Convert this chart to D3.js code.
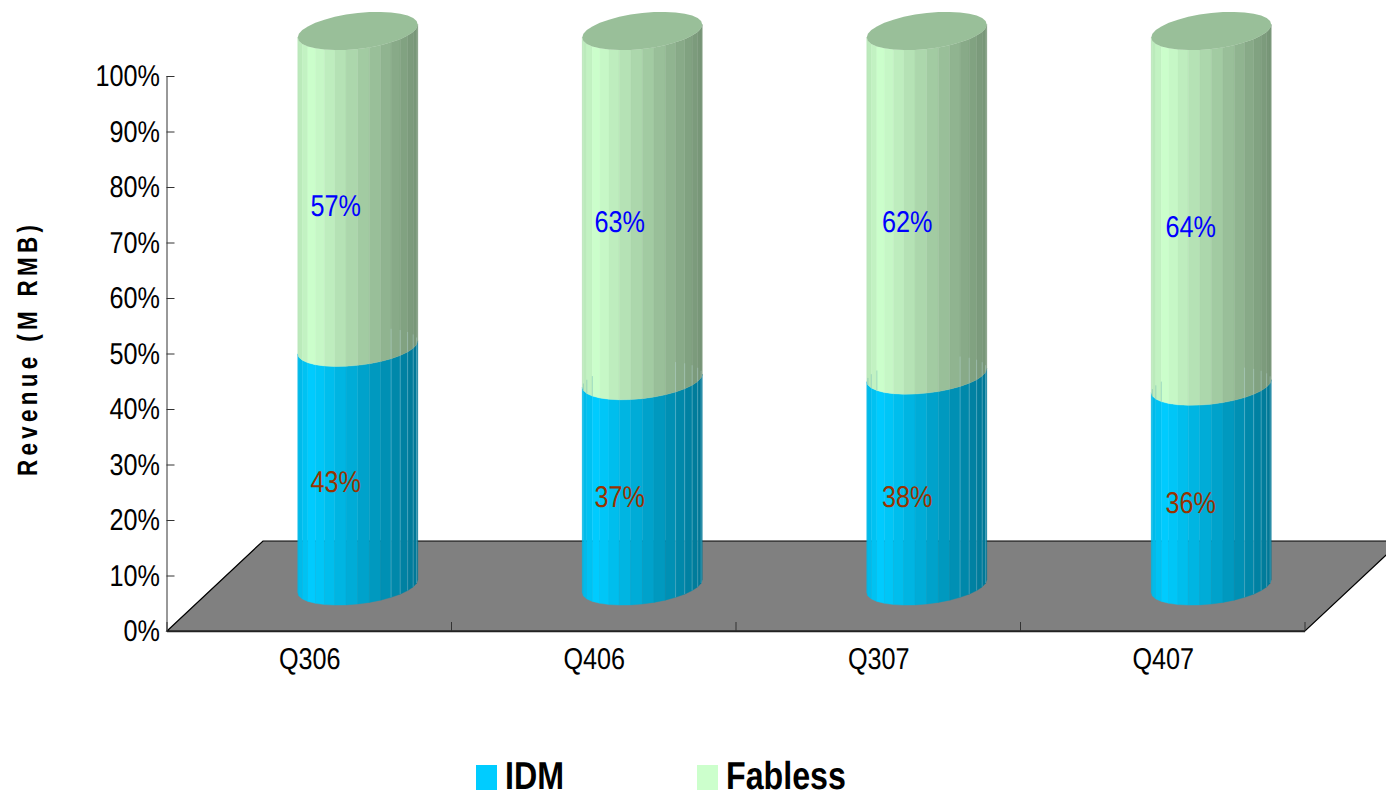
<!DOCTYPE html>
<html>
<head>
<meta charset="utf-8">
<title>Revenue share by customer type</title>
<script src="https://cdn.jsdelivr.net/npm/d3@7"></script>
<style>
  html, body { margin: 0; padding: 0; background: #fff; overflow: hidden; }
  svg { display: block; font-family: "Liberation Sans", Arial, sans-serif; text-rendering: geometricPrecision; }
</style>
</head>
<body>
<svg id="chart" width="1386" height="792"></svg>
<script>
// Quarterly revenue split, percent of total
const categories = ["Q306", "Q406", "Q307", "Q407"];
const seriesNames = ["IDM", "Fabless"];
const idmShare = [43, 37, 38, 36];
const fablessShare = [57, 63, 62, 64];
const yTickValues = [0, 10, 20, 30, 40, 50, 60, 70, 80, 90, 100];
const seriesColors = ["#00ccff", "#ccffcc"];
const labelColors = ["#993300", "#0000ff"];

// Plot frame and the 3D projection of the depth axis
const plot = { left: 167, right: 1305, top: 76, bottom: 631 };
const depth = { dx: 96, dy: 90 };
const cyl = { rx: 60, ry: 18, skew: 6.5, dx: 48.5, dy: 45 };
const frontFacets = 16;
const glyphSqueeze = 0.84;

// Small per-column shifts for the percentage labels
const labelShiftX = [0.5, 0, 3, 2];
const idmLabelShiftY = [0, -1, 1, 2];
const fablessLabelShiftY = [2, 1, 4, 3];

const svg = d3.select("#chart");
const x = d3.scaleBand().domain(categories).range([plot.left, plot.right]);
const y = d3.scaleLinear().domain([0, 100]).range([plot.bottom, plot.top]);

// Floor of the 3D box
svg.append("path")
  .attr("d", d3.line()([
    [plot.left, plot.bottom],
    [plot.left + depth.dx, plot.bottom - depth.dy],
    [plot.right + depth.dx, plot.bottom - depth.dy],
    [plot.right, plot.bottom]
  ]) + "Z")
  .attr("fill", "#808080")
  .attr("stroke", "#000")
  .attr("stroke-width", 1.2);

// Axes
const yAxis = svg.append("g")
  .attr("transform", `translate(${plot.left - 0.5},0)`)
  .call(d3.axisLeft(y).tickValues(yTickValues).tickFormat(d => d + "%").tickSize(-8).tickPadding(0));
yAxis.selectAll("text").remove();
yAxis.select(".domain").attr("stroke", "#333").attr("d", `M0.5,${plot.top}V${plot.bottom}`);
yAxis.selectAll(".tick line").attr("stroke", "#333");

const boundaries = categories.map(c => x(c) + x.bandwidth()).concat([plot.left]);
svg.append("g").selectAll("line").data(boundaries).join("line")
  .attr("x1", d => d).attr("x2", d => d)
  .attr("y1", plot.bottom - 9).attr("y2", plot.bottom)
  .attr("stroke", "#333");
svg.append("line")
  .attr("x1", plot.left).attr("x2", plot.right)
  .attr("y1", plot.bottom + 0.5).attr("y2", plot.bottom + 0.5)
  .attr("stroke", "#222").attr("stroke-width", 1.4);

// Horizontally condensed text, anchored at the given point
function squeezedText(parent, px, py, str, anchor, size, sx, fill, weight) {
  return parent.append("text")
    .attr("transform", `translate(${px},${py}) scale(${sx},1)`)
    .attr("text-anchor", anchor)
    .attr("font-size", size)
    .attr("font-weight", weight || "normal")
    .attr("fill", fill)
    .text(str);
}

yTickValues.forEach(v => {
  squeezedText(svg, 160, y(v) + 10, v + "%", "end", 30, glyphSqueeze, "#000");
});
categories.forEach(c => {
  squeezedText(svg, x(c) + x.bandwidth() / 2 + 0.5, 669, c, "middle", 30, glyphSqueeze, "#000");
});

// Point on the tilted rim ellipse for an angle: PI is the left edge, 0 the right edge
const rimPoint = (cx, cy, t) => [
  cx + cyl.rx * Math.cos(t),
  cy + cyl.ry * Math.sin(t) - cyl.skew * Math.cos(t)
];
const facetAngles = d3.range(frontFacets + 1).map(i => Math.PI * (1 - i / frontFacets));
const shade = d3.scaleLinear().domain([0, 0.12, 1]).range([0.9, 1, 0.58]);
const tint = (base, f) => {
  const c = d3.rgb(base);
  return d3.rgb(c.r * f, c.g * f, c.b * f).formatHex();
};

// One stacked cylinder segment, drawn as vertical facets between two rims
function drawSegment(g, cx, lowValue, highValue, color) {
  const yLow = y(lowValue) - cyl.dy;
  const yHigh = y(highValue) - cyl.dy;
  const facetColor = ([a, b]) => {
    const mid = rimPoint(cx, yLow, (a + b) / 2)[0];
    return tint(color, shade((mid - (cx - cyl.rx)) / (2 * cyl.rx)));
  };
  g.append("g").selectAll("path").data(d3.pairs(facetAngles)).join("path")
    .attr("d", ([a, b]) => d3.line()([
      rimPoint(cx, yLow, a), rimPoint(cx, yLow, b),
      rimPoint(cx, yHigh, b), rimPoint(cx, yHigh, a)
    ]) + "Z")
    .attr("fill", facetColor)
    .attr("stroke", facetColor)
    .attr("stroke-width", 0.4);
}

// Pale seams along the narrow right-hand facets of the lower segment
function drawSeams(g, cx, topValue, color) {
  const seamAngles = facetAngles.filter((t, i) => i >= frontFacets - 5 && i < frontFacets);
  g.append("g").selectAll("line").data(seamAngles).join("line")
    .attr("x1", t => rimPoint(cx, 0, t)[0]).attr("x2", t => rimPoint(cx, 0, t)[0])
    .attr("y1", t => rimPoint(cx, y(0) - cyl.dy, t)[1])
    .attr("y2", t => rimPoint(cx, y(topValue) - cyl.dy, -t)[1])
    .attr("stroke", color)
    .attr("stroke-opacity", 0.28)
    .attr("stroke-width", 1);
}

// Short streaks at the left edge, where the far rim of the lower segment shows through
function drawLeftStreaks(g, cx, topValue, color) {
  const rimY = y(topValue) - cyl.dy;
  const streakAngles = facetAngles.filter((t, i) => i >= 1 && i <= 3);
  g.append("g").selectAll("line").data(streakAngles).join("line")
    .attr("x1", t => rimPoint(cx, rimY, t)[0]).attr("x2", t => rimPoint(cx, rimY, t)[0])
    .attr("y1", t => rimPoint(cx, rimY, t)[1])
    .attr("y2", t => rimPoint(cx, rimY, -t)[1])
    .attr("stroke", color)
    .attr("stroke-opacity", 0.4)
    .attr("stroke-width", 1);
}

const capAngles = d3.range(2 * frontFacets).map(i => Math.PI * i / frontFacets);

categories.forEach((c, i) => {
  const g = svg.append("g");
  const cx = x(c) + x.bandwidth() / 2 + cyl.dx;
  const idmTop = idmShare[i];
  const total = idmShare[i] + fablessShare[i];
  drawSegment(g, cx, 0, idmTop, seriesColors[0]);
  drawSegment(g, cx, idmTop, total, seriesColors[1]);
  drawSeams(g, cx, idmTop, "#ccf0ff");
  if (idmTop < 40) drawLeftStreaks(g, cx, idmTop, "#5fb0b0");
  g.append("path")
    .attr("d", d3.line()(capAngles.map(t => rimPoint(cx, y(total) - cyl.dy, t))) + "Z")
    .attr("fill", tint(seriesColors[1], 0.75));

  // Percentage labels sit on the front of each segment
  const labelX = x(c) + x.bandwidth() / 2 + 26 + labelShiftX[i];
  squeezedText(svg, labelX, y(idmTop / 2) - 20 + idmLabelShiftY[i], idmShare[i] + "%", "middle", 30, glyphSqueeze, labelColors[0]);
  squeezedText(svg, labelX, y(idmTop + fablessShare[i] / 2) - 20 + fablessLabelShiftY[i], fablessShare[i] + "%", "middle", 30, glyphSqueeze, labelColors[1]);
});

// Axis title, tall bold letters condensed along the reading direction
const titleSqueeze = 0.8;
svg.append("text")
  .attr("transform", `translate(37,476) rotate(-90) scale(${titleSqueeze},1)`)
  .attr("font-size", 28)
  .attr("font-weight", "bold")
  .attr("textLength", 251 / titleSqueeze)
  .attr("lengthAdjust", "spacing")
  .attr("fill", "#000")
  .text("Revenue (M RMB)");

// Legend
const legendPositions = [476, 697];
seriesNames.forEach((name, i) => {
  svg.append("rect")
    .attr("x", legendPositions[i]).attr("y", 765)
    .attr("width", 21).attr("height", 25)
    .attr("fill", seriesColors[i]);
  squeezedText(svg, legendPositions[i] + 29, 789, name, "start", 39, 0.825, "#000", "bold");
});
</script>
</body>
</html>
